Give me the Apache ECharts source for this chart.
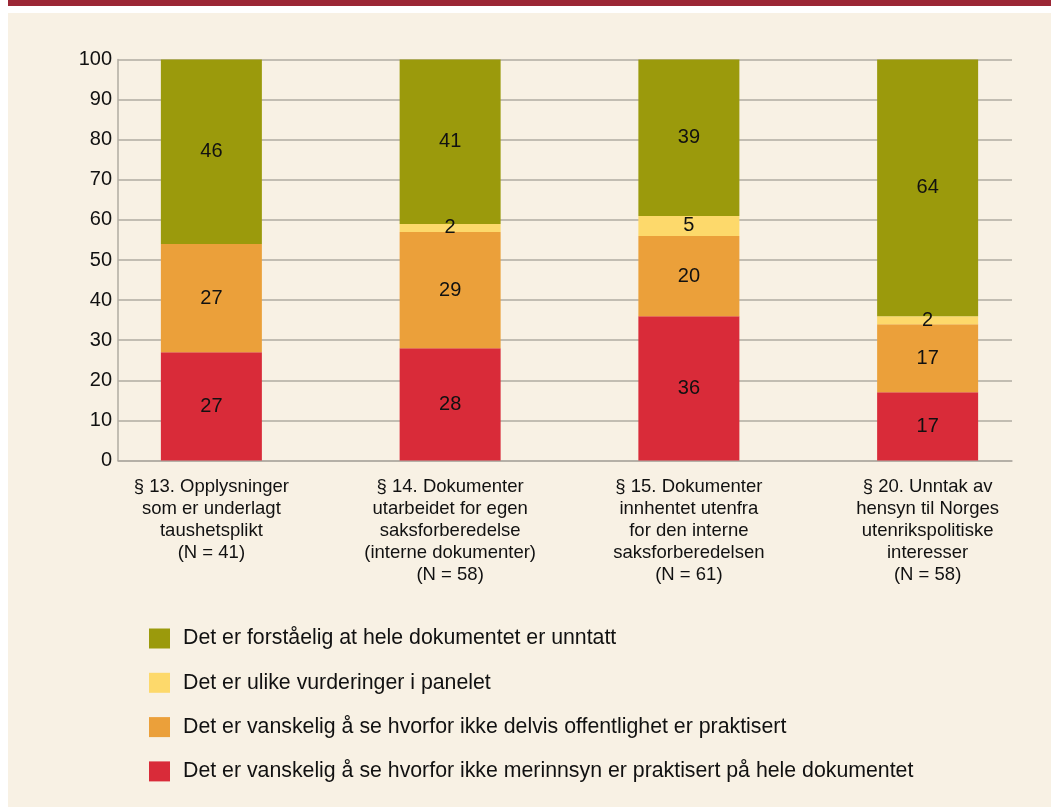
<!DOCTYPE html>
<html>
<head>
<meta charset="utf-8">
<script src="https://cdn.jsdelivr.net/npm/echarts@6/dist/echarts.min.js"></script>
<style>
  html, body { margin: 0; padding: 0; background: #ffffff; }
  #band { position: absolute; left: 8px; top: 0; right: 0; height: 6px; background: #9b2735; }
  #panel { position: absolute; left: 8px; top: 13px; right: 0; bottom: 0; background: #f8f1e4; }
  #chart { position: absolute; left: 0; top: 0; width: 1051px; height: 807px; }
</style>
</head>
<body>
<div id="band"></div>
<div id="panel"></div>
<div id="chart"></div>
<script>
const categories = [
  '§ 13. Opplysninger\nsom er underlagt\ntaushetsplikt\n(N = 41)',
  '§ 14. Dokumenter\nutarbeidet for egen\nsaksforberedelse\n(interne dokumenter)\n(N = 58)',
  '§ 15. Dokumenter\ninnhentet utenfra\nfor den interne\nsaksforberedelsen\n(N = 61)',
  '§ 20. Unntak av\nhensyn til Norges\nutenrikspolitiske\ninteresser\n(N = 58)'
];
const seriesNames = [
  'Det er vanskelig å se hvorfor ikke merinnsyn er praktisert på hele dokumentet',
  'Det er vanskelig å se hvorfor ikke delvis offentlighet er praktisert',
  'Det er ulike vurderinger i panelet',
  'Det er forståelig at hele dokumentet er unntatt'
];
const merinnsyn = [27, 28, 36, 17];
const delvis = [27, 29, 20, 17];
const ulike = [null, 2, 5, 2];
const forstaelig = [46, 41, 39, 64];
const colors = ['#d92b39', '#eba03a', '#fdd96b', '#9b9a0c'];

const chart = echarts.init(document.getElementById('chart'), null, { renderer: 'canvas' });

const font = 'Liberation Sans, Arial, sans-serif';
const gridColor = '#b0aba2';

function barSeries(i, data) {
  return {
    name: seriesNames[i],
    type: 'bar',
    stack: 'total',
    xAxisIndex: 0,
    yAxisIndex: 0,
    barWidth: 101,
    data: data,
    itemStyle: { color: colors[i] },
    label: {
      show: true,
      position: 'inside',
      color: '#111',
      fontSize: 20,
      fontFamily: font
    },
    emphasis: { disabled: true }
  };
}

chart.setOption({
  backgroundColor: 'transparent',
  animation: false,
  textStyle: { fontFamily: font },
  grid: [
    { left: 92, right: 4, top: 59.5, height: 401 },
    { left: 118, width: 894, top: 59.5, height: 401 }
  ],
  xAxis: [
    {
      type: 'category',
      gridIndex: 0,
      data: categories,
      axisLine: { show: false },
      axisTick: { show: false },
      axisLabel: {
        color: '#111',
        fontSize: 18.5,
        lineHeight: 22,
        margin: 15,
        interval: 0,
        fontFamily: font
      }
    },
    {
      type: 'value',
      gridIndex: 1,
      min: 0,
      max: 1,
      axisLine: { show: true, lineStyle: { color: gridColor, width: 1.5 } },
      axisTick: { show: false },
      axisLabel: { show: false },
      splitLine: { show: false }
    }
  ],
  yAxis: [
    {
      type: 'value',
      gridIndex: 0,
      min: 0,
      max: 100,
      show: false
    },
    {
      type: 'value',
      gridIndex: 1,
      min: 0,
      max: 100,
      interval: 10,
      axisLine: { show: true, lineStyle: { color: gridColor, width: 1.5 } },
      axisTick: { show: false },
      axisLabel: { color: '#111', fontSize: 20, margin: 6, fontFamily: font },
      splitLine: { show: true, lineStyle: { color: gridColor, width: 1.5 } }
    }
  ],
  legend: {
    orient: 'vertical',
    left: 149,
    top: 628,
    padding: 0,
    itemWidth: 21,
    itemHeight: 20,
    itemGap: 23.3,
    icon: 'rect',
    selectedMode: false,
    data: [seriesNames[3], seriesNames[2], seriesNames[1], seriesNames[0]],
    textStyle: { color: '#111', fontSize: 21.3, fontFamily: font, padding: [0, 0, 0, 8] }
  },
  series: [
    barSeries(0, merinnsyn),
    barSeries(1, delvis),
    barSeries(2, ulike),
    barSeries(3, forstaelig)
  ]
});
</script>
</body>
</html>
